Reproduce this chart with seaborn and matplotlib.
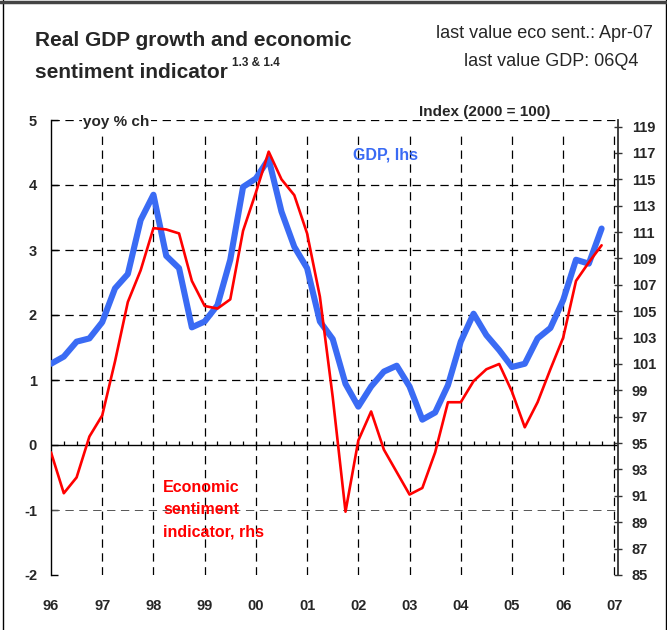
import matplotlib
matplotlib.use("Agg")
import matplotlib.pyplot as plt
import seaborn as sns
import pandas as pd
from matplotlib.lines import Line2D

# ---- data (quarterly, 1996Q1 - 2006Q4) ----
years = list(range(1996, 2007))
quarters = [f"{y}Q{q}" for y in years for q in range(1, 5)]

gdp_yoy = [1.25, 1.36, 1.59, 1.64, 1.89, 2.41, 2.63, 3.46,
           3.85, 2.91, 2.72, 1.81, 1.90, 2.15, 2.85, 3.97,
           4.10, 4.40, 3.59, 3.05, 2.72, 1.90, 1.63, 0.94,
           0.59, 0.90, 1.13, 1.22, 0.90, 0.39, 0.50, 0.92,
           1.59, 2.02, 1.69, 1.46, 1.20, 1.25, 1.64, 1.80,
           2.23, 2.85, 2.79, 3.33]

esi_index = [94.3, 91.2, 92.4, 95.5, 97.1, 101.2, 105.7, 108.1,
             111.3, 111.2, 110.9, 107.3, 105.4, 105.2, 105.9, 111.1,
             114.0, 117.1, 115.0, 113.8, 110.9, 106.1, 98.5, 89.8,
             95.2, 97.4, 94.5, 92.8, 91.1, 91.6, 94.3, 98.1,
             98.1, 99.7, 100.6, 101.0, 98.9, 96.2, 98.1, 100.6,
             103.0, 107.3, 108.7, 110.0]

year_labels = ["96", "97", "98", "99", "00", "01", "02", "03", "04", "05", "06", "07"]
left_ticks = [-2, -1, 0, 1, 2, 3, 4, 5]
right_ticks = list(range(85, 120, 2))

t = [int(q[:4]) + (int(q[-1]) - 1) / 4 for q in quarters]
df = pd.DataFrame({"t": t, "gdp": gdp_yoy, "esi": esi_index})

BLUE = "#3A6BF4"
RED = "#FF0000"

sns.set_theme(style="white")
plt.rcParams['font.family'] = ['Liberation Sans', 'DejaVu Sans']
plt.rcParams['lines.scale_dashes'] = False

W, H = 667, 630
fig = plt.figure(figsize=(W / 100, H / 100), dpi=100)
fig.patch.set_facecolor("white")

L, R, T, B = 51, 618, 120, 575
ax = fig.add_axes([L / W, 1 - B / H, (R - L) / W, (B - T) / H])
ax2 = ax.twinx()

# grid / reference lines
dash = (0, (6, 4))
for v in [1, 2, 3, 4, 5]:
    ax.axhline(v, color="black", lw=0.9, ls=dash, zorder=1)
ax.axhline(-1, color="#555555", lw=0.7, ls=dash, zorder=1)
tick_years = [1996 + i for i in range(len(year_labels))]
for yv in tick_years[1:]:
    ax.axvline(yv, ymin=0.0, ymax=0.965, color="black", lw=0.9, ls=dash, zorder=1)
ax.axhline(0, color="black", lw=1.0, zorder=2)
ax.vlines([v + 0.25 for v in df["t"]], 0, 0.06, color="black", lw=0.9, zorder=2)

sns.lineplot(data=df, x="t", y="gdp", ax=ax, color=BLUE, lw=4.4, zorder=3)
sns.lineplot(data=df, x="t", y="esi", ax=ax2, color=RED, lw=1.9, zorder=4)

ax.set_xlim(1996, 2007.07)
ax.set_ylim(-2, 5)
ax2.set_ylim(85, 119.5)
for a in (ax, ax2):
    a.set_xlabel("")
    a.set_ylabel("")
    for s in a.spines.values():
        s.set_visible(False)
ax.spines["left"].set_visible(True)
ax.spines["left"].set_color("black")
ax.spines["left"].set_linewidth(1.0)
ax2.spines["right"].set_visible(True)
ax2.spines["right"].set_color("#333333")
ax2.spines["right"].set_linewidth(1.3)

ax.set_yticks(left_ticks)
ax.set_yticklabels([str(v) for v in left_ticks], fontsize=10.5, fontweight="bold")
ax.tick_params(axis="y", left=True, direction="in", length=5, width=1, color="black", pad=10)
ax2.set_yticks(right_ticks)
ax2.set_yticklabels([str(v) for v in right_ticks], fontsize=10.5, fontweight="bold")
ax2.tick_params(axis="y", right=True, direction="inout", length=6, width=1, color="#333333", pad=7)

ax.set_xticks(tick_years)
ax.set_xticklabels(year_labels, fontsize=10.5, fontweight="bold")
ax.tick_params(axis="x", bottom=False, length=0, pad=17)
ax.patch.set_alpha(0)

# in-plot labels
fig.text(83 / W, 1 - 122 / H, "yoy % ch", fontsize=11, fontweight="bold", va="center",
         bbox=dict(facecolor="white", edgecolor="none", pad=1))
fig.text(485 / W, 1 - 112 / H, "Index (2000 = 100)", fontsize=11, fontweight="bold",
         ha="center", va="center", bbox=dict(facecolor="white", edgecolor="none", pad=1))
fig.text(353 / W, 1 - 155 / H, "GDP, lhs", fontsize=11.5, fontweight="bold", color=BLUE, va="center")
fig.text(163 / W, 1 - 480 / H, "Economic\nsentiment\nindicator, rhs", fontsize=11.5,
         fontweight="bold", color=RED, va="top", linespacing=1.6)

# titles
fig.text(35 / W, 1 - 40 / H, "Real GDP growth and economic", fontsize=15,
         fontweight="bold", va="center")
t2 = fig.text(35 / W, 1 - 72 / H, "sentiment indicator", fontsize=15,
              fontweight="bold", va="center")
fig.canvas.draw()
bb = t2.get_window_extent()
fig.text((bb.x1 + 4) / W, 1 - 63 / H, "1.3 & 1.4", fontsize=8.5, fontweight="bold", va="center")
fig.text(544 / W, 1 - 33 / H, "last value eco sent.: Apr-07", fontsize=13, ha="center", va="center")
fig.text(551 / W, 1 - 62 / H, "last value GDP: 06Q4", fontsize=13, ha="center", va="center")

# frame
fig.add_artist(Line2D([2.5 / W, 2.5 / W], [0, 1], transform=fig.transFigure, color="black", lw=1.0))
fig.add_artist(Line2D([665.5 / W, 665.5 / W], [0, 1], transform=fig.transFigure, color="black", lw=1.0))
fig.add_artist(Line2D([0, 1], [1 - 1.5 / H, 1 - 1.5 / H], transform=fig.transFigure, color="#444444", lw=2.5))

fig.savefig("out.png", dpi=100, facecolor="white")
